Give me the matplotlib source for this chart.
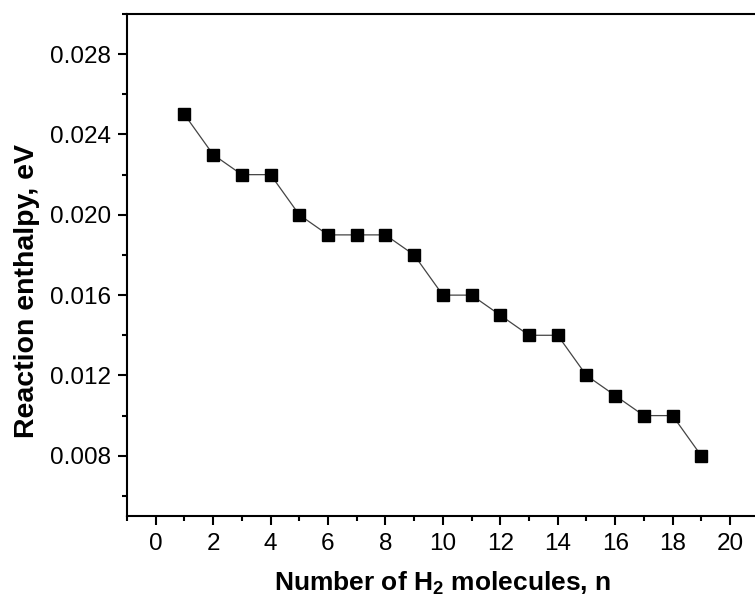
import matplotlib
matplotlib.use("Agg")
import matplotlib.pyplot as plt
from matplotlib.ticker import MultipleLocator, FixedLocator

n_values = [1, 2, 3, 4, 5, 6, 7, 8, 9, 10, 11, 12, 13, 14, 15, 16, 17, 18, 19]
enthalpy = [0.025, 0.023, 0.022, 0.022, 0.020, 0.019, 0.019, 0.019, 0.018, 0.016,
            0.016, 0.015, 0.014, 0.014, 0.012, 0.011, 0.010, 0.010, 0.008]
x_ticks = [0, 2, 4, 6, 8, 10, 12, 14, 16, 18, 20]
y_ticks = [0.008, 0.012, 0.016, 0.020, 0.024, 0.028]
y_tick_labels = ["0.008", "0.012", "0.016", "0.020", "0.024", "0.028"]

plt.rcParams['font.family'] = ['Liberation Sans', 'DejaVu Sans']
plt.rcParams['mathtext.fontset'] = 'custom'
plt.rcParams['mathtext.rm'] = 'Liberation Sans'
plt.rcParams['mathtext.bf'] = 'Liberation Sans:bold'

fig = plt.figure(figsize=(7.55, 6.04), dpi=100)
ax = fig.add_axes([0.1682, 0.1457, 0.8367, 0.8311])

ax.plot(n_values, enthalpy, color='#444444', linewidth=0.9,
        marker='s', markersize=8, markerfacecolor='black', markeredgecolor='black')

ax.set_xlim(-1, 21)
ax.set_ylim(0.005, 0.030)
ax.set_xticks(x_ticks)
ax.xaxis.set_minor_locator(MultipleLocator(1))
ax.set_yticks(y_ticks)
ax.set_yticklabels(y_tick_labels)
ax.yaxis.set_minor_locator(FixedLocator([0.006, 0.010, 0.014, 0.018, 0.022, 0.026, 0.030]))

for s in ax.spines.values():
    s.set_linewidth(1.5)
ax.tick_params(which='major', direction='out', length=6.5, width=1.5, labelsize=17.5, pad=5)
ax.tick_params(axis='x', which='major', pad=6)
ax.tick_params(which='minor', direction='out', length=3.5, width=1.5)

ax.set_xlabel("Number of H$_\\mathbf{2}$ molecules, n", fontsize=19, fontweight='bold', labelpad=10)
ax.set_ylabel("Reaction enthalpy, eV", fontsize=20.5, fontweight='bold')
ax.yaxis.set_label_coords(-0.137, 0.448)

fig.savefig("out.png", dpi=100)
